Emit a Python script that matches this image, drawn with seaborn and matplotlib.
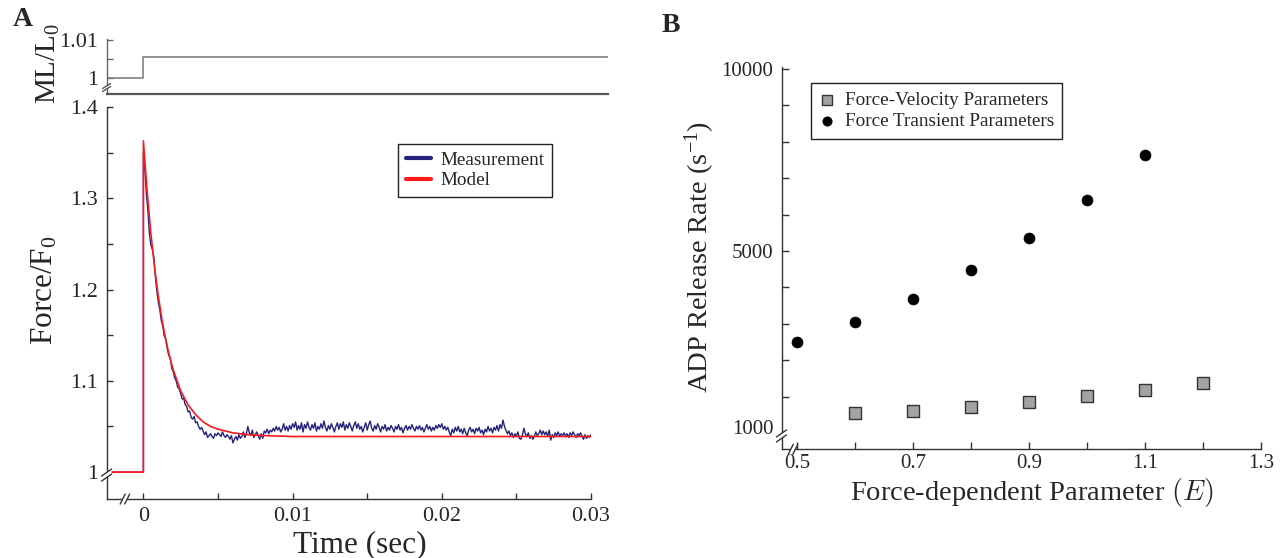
import numpy as np
import pandas as pd
import matplotlib
matplotlib.use("Agg")
import matplotlib.pyplot as plt
import seaborn as sns
from matplotlib.lines import Line2D
from matplotlib.patches import Polygon
from matplotlib.ticker import FixedLocator, FixedFormatter, NullFormatter

# ---------------- Panel A data ----------------
t_left = -0.00247
ml_time = [t_left, 0.0, 0.0, 0.03114]
ml_value = [1.0, 1.0, 1.0055, 1.0055]

baseline_time = [t_left, 0.0]
baseline_value = [1.0, 1.0]
meas_dt = 0.0001
meas_value = [
    1.350, 1.332, 1.305, 1.287, 1.262, 1.249, 1.244, 1.236, 1.215, 1.199,
    1.186, 1.178, 1.166, 1.160, 1.149, 1.146, 1.135, 1.128, 1.125, 1.114,
    1.110, 1.103, 1.100, 1.093, 1.091, 1.086, 1.080, 1.081, 1.074, 1.072,
    1.066, 1.067, 1.060, 1.058, 1.061, 1.054, 1.055, 1.050, 1.047, 1.049,
    1.045, 1.041, 1.044, 1.038, 1.040, 1.042, 1.039, 1.037, 1.042, 1.040,
    1.043, 1.041, 1.039, 1.044, 1.040, 1.038, 1.041, 1.039, 1.036, 1.040,
    1.032, 1.036, 1.039, 1.035, 1.041, 1.037, 1.039, 1.044, 1.038, 1.042,
    1.050, 1.043, 1.040, 1.046, 1.038, 1.041, 1.044, 1.040, 1.036, 1.042,
    1.037, 1.045, 1.043, 1.047, 1.042, 1.046, 1.044, 1.048, 1.045, 1.050,
    1.046, 1.049, 1.044, 1.047, 1.053, 1.046, 1.050, 1.045, 1.051, 1.047,
    1.053, 1.049, 1.055, 1.046, 1.051, 1.047, 1.054, 1.044, 1.052, 1.048,
    1.055, 1.049, 1.046, 1.052, 1.048, 1.054, 1.045, 1.050, 1.047, 1.053,
    1.048, 1.056, 1.049, 1.045, 1.051, 1.047, 1.053, 1.049, 1.044, 1.050,
    1.054, 1.047, 1.053, 1.049, 1.055, 1.046, 1.052, 1.048, 1.054, 1.050,
    1.045, 1.051, 1.055, 1.048, 1.053, 1.047, 1.050, 1.044, 1.049, 1.054,
    1.046, 1.052, 1.056, 1.048, 1.045, 1.051, 1.047, 1.053, 1.049, 1.044,
    1.050, 1.047, 1.052, 1.045, 1.049, 1.046, 1.051, 1.048, 1.044, 1.050,
    1.047, 1.052, 1.046, 1.049, 1.043, 1.048, 1.051, 1.046, 1.050, 1.047,
    1.052, 1.048, 1.045, 1.050, 1.047, 1.051, 1.046, 1.049, 1.044, 1.048,
    1.052, 1.047, 1.050, 1.045, 1.049, 1.046, 1.051, 1.048, 1.052, 1.049,
    1.053, 1.047, 1.050, 1.046, 1.049, 1.044, 1.040, 1.047, 1.043, 1.049,
    1.045, 1.050, 1.044, 1.047, 1.042, 1.048, 1.043, 1.040, 1.046, 1.049,
    1.044, 1.047, 1.042, 1.048, 1.045, 1.049, 1.043, 1.046, 1.041, 1.047,
    1.044, 1.050, 1.045, 1.048, 1.043, 1.049, 1.046, 1.051, 1.045, 1.052,
    1.048, 1.057, 1.050, 1.046, 1.042, 1.045, 1.040, 1.043, 1.038, 1.042,
    1.039, 1.044, 1.037, 1.036, 1.040, 1.048, 1.042, 1.039, 1.043, 1.037,
    1.040, 1.036, 1.039, 1.044, 1.040, 1.042, 1.046, 1.041, 1.045, 1.041,
    1.044, 1.039, 1.046, 1.035, 1.041, 1.038, 1.043, 1.040, 1.044, 1.039,
    1.042, 1.040, 1.043, 1.039, 1.042, 1.038, 1.043, 1.040, 1.044, 1.041,
    1.038, 1.042, 1.040, 1.043, 1.039, 1.036, 1.041, 1.037, 1.040, 1.038, 1.041,
]

model_time = [t_left, 0.0, 0.0, 0.00025, 0.0005, 0.00075, 0.001, 0.00125, 0.0015,
              0.00175, 0.002, 0.0025, 0.003, 0.0035, 0.004, 0.0045, 0.005, 0.006,
              0.007, 0.008, 0.01, 0.03]
model_value = [1.0, 1.0, 1.363, 1.308, 1.262, 1.224, 1.193, 1.1665, 1.145,
               1.127, 1.112, 1.089, 1.0735, 1.063, 1.055, 1.050, 1.047, 1.043,
               1.041, 1.040, 1.039, 1.039]

a_xticks = [0.0, 0.01, 0.02, 0.03]
a_xticklabels = ["0", "0.01", "0.02", "0.03"]
a_xminor = [0.005, 0.015, 0.025]
a_yticks = [1.0, 1.1, 1.2, 1.3, 1.4]
a_yticklabels = ["1", "1.1", "1.2", "1.3", "1.4"]
a_yminor = [1.05, 1.15, 1.25, 1.35]
ml_yticks = [1.0, 1.01]
ml_yticklabels = ["1", "1.01"]
ml_yminor = [1.005]

# ---------------- Panel B data ----------------
fv_E = [0.6, 0.7, 0.8, 0.9, 1.0, 1.1, 1.2]
fv_rate = [541, 596, 706, 843, 1008, 1181, 1382]
ft_E = [0.5, 0.6, 0.7, 0.8, 0.9, 1.0, 1.1]
ft_rate = [2490, 3040, 3690, 4470, 5360, 6400, 7640]

b_xticks = [0.5, 0.7, 0.9, 1.1, 1.3]
b_xticklabels = ["0.5", "0.7", "0.9", "1.1", "1.3"]
b_xminor = [0.6, 0.8, 1.0, 1.2]
b_yticks = [165, 5000, 10000]
b_yticklabels = ["1000", "5000", "10000"]
b_yminor = [1000, 2000, 3000, 4000, 6000, 7000, 8000, 9000]

# ---------------- style ----------------
sns.set_theme(style="ticks")
plt.rcParams["font.family"] = ["Liberation Serif", "DejaVu Serif"]
plt.rcParams["mathtext.fontset"] = "custom"
plt.rcParams["mathtext.rm"] = "Liberation Serif"
plt.rcParams["mathtext.it"] = "Liberation Serif:italic"
plt.rcParams["axes.edgecolor"] = "#333333"
plt.rcParams["axes.linewidth"] = 1.0

TICK_FS_A = 16
TICK_FS_B = 15
LABEL_FS_A = 22.5
LABEL_FS_B = 20.5
LEG_FS = 13.8

fig = plt.figure(figsize=(12.82, 5.58), dpi=100)
ax_ml = fig.add_axes([0.0831, 0.8315, 0.3912, 0.0986])
ax_a = fig.add_axes([0.0831, 0.1057, 0.3779, 0.7025])
ax_b = fig.add_axes([0.6096, 0.1948, 0.3740, 0.6851])

# ---- top small panel ----
df_ml = pd.DataFrame({"t": ml_time, "v": ml_value})
sns.lineplot(data=df_ml, x="t", y="v", ax=ax_ml, color="#808080", lw=1.2,
             sort=False, estimator=None)
ax_ml.set_xlim(t_left, 0.03114)
ax_ml.set_ylim(0.9958, 1.0103)
ax_ml.yaxis.set_major_locator(FixedLocator(ml_yticks))
ax_ml.yaxis.set_major_formatter(FixedFormatter(ml_yticklabels))
ax_ml.yaxis.set_minor_locator(FixedLocator(ml_yminor))
ax_ml.set_xticks([])
for s in ["top", "right"]:
    ax_ml.spines[s].set_visible(False)
ax_ml.spines["left"].set_color("#666666")
ax_ml.spines["bottom"].set_color("#555555")
ax_ml.spines["bottom"].set_linewidth(1.6)
ax_ml.tick_params(axis="y", which="both", direction="in", length=4, width=1,
                  color="#666666", labelsize=TICK_FS_A, pad=6)
ax_ml.set_xlabel("")
ax_ml.set_ylabel("ML/L$_0$", fontsize=21)
ax_ml.yaxis.label.set_va("center")
ax_ml.yaxis.set_label_coords(-0.115, 0.56)

# ---- main panel A ----
df_meas = pd.DataFrame({
    "t": baseline_time + [i * meas_dt for i in range(len(meas_value))],
    "v": baseline_value + meas_value,
})
df_model = pd.DataFrame({"t": model_time, "v": model_value})
sns.lineplot(data=df_meas, x="t", y="v", ax=ax_a, color="#23237f", lw=1.0,
             sort=False, estimator=None, label="Measurement")
sns.lineplot(data=df_model, x="t", y="v", ax=ax_a, color="#ff1a1a", lw=1.2,
             sort=False, estimator=None, label="Model")
ax_a.set_xlim(t_left, 0.03)
ax_a.set_ylim(0.9705, 1.4)
ax_a.xaxis.set_major_locator(FixedLocator(a_xticks))
ax_a.xaxis.set_major_formatter(FixedFormatter(a_xticklabels))
ax_a.xaxis.set_minor_locator(FixedLocator(a_xminor))
ax_a.yaxis.set_major_locator(FixedLocator(a_yticks))
ax_a.yaxis.set_major_formatter(FixedFormatter(a_yticklabels))
ax_a.yaxis.set_minor_locator(FixedLocator(a_yminor))
for s in ["top", "right"]:
    ax_a.spines[s].set_visible(False)
ax_a.tick_params(axis="both", which="both", direction="in", length=4, width=1,
                 color="#333333", labelsize=TICK_FS_A, pad=6)
ax_a.set_xlabel("Time (sec)", fontsize=LABEL_FS_A)
ax_a.set_ylabel("Force/F$_0$", fontsize=LABEL_FS_A)
ax_a.xaxis.label.set_va("center")
ax_a.yaxis.label.set_va("center")
ax_a.xaxis.set_label_coords(0.523, -0.117)
ax_a.yaxis.set_label_coords(-0.127, 0.533)
leg_a = ax_a.legend(loc="upper left", bbox_to_anchor=(0.3105, 0.7419),
                    bbox_transform=fig.transFigure, borderaxespad=0,
                    fontsize=LEG_FS, frameon=True, fancybox=False,
                    edgecolor="#222222", framealpha=1, handlelength=1.3,
                    handletextpad=0.5, labelspacing=0.15, borderpad=0.4)
leg_a.get_frame().set_linewidth(1.0)
for h in leg_a.get_lines():
    h.set_linewidth(3)

# ---- panel B ----
sns.scatterplot(x=fv_E, y=fv_rate, ax=ax_b, marker="s", s=66, color="#a3a3a3",
                edgecolor="#333333", linewidth=1.0,
                label="Force-Velocity Parameters")
sns.scatterplot(x=ft_E, y=ft_rate, ax=ax_b, marker="o", s=62, color="black",
                edgecolor="black", linewidth=0.5,
                label="Force Transient Parameters")
ax_b.set_xlim(0.4724, 1.3)
ax_b.set_ylim(-448, 10055)
ax_b.xaxis.set_major_locator(FixedLocator(b_xticks))
ax_b.xaxis.set_major_formatter(FixedFormatter(b_xticklabels))
ax_b.xaxis.set_minor_locator(FixedLocator(b_xminor))
ax_b.yaxis.set_major_locator(FixedLocator(b_yticks))
ax_b.yaxis.set_major_formatter(FixedFormatter(b_yticklabels))
ax_b.yaxis.set_minor_locator(FixedLocator(b_yminor))
ax_b.yaxis.set_minor_formatter(NullFormatter())
for s in ["top", "right"]:
    ax_b.spines[s].set_visible(False)
ax_b.tick_params(axis="y", which="both", direction="in", length=5, width=1,
                 color="#333333", labelsize=TICK_FS_B, pad=6)
ax_b.tick_params(axis="x", which="both", direction="in", length=5, width=1,
                 color="#333333", labelsize=TICK_FS_B, pad=3.5)
ax_b.set_xlabel("Force-dependent Parameter $(E)$", fontsize=LABEL_FS_B,
                math_fontfamily="cm")
ax_b.set_ylabel("ADP Release Rate (s$^{-1}$)", fontsize=LABEL_FS_B)
ax_b.xaxis.label.set_va("center")
ax_b.yaxis.label.set_va("center")
ax_b.xaxis.set_label_coords(0.522, -0.112)
ax_b.yaxis.set_label_coords(-0.17, 0.503)
leg_b = ax_b.legend(loc="upper left", bbox_to_anchor=(0.6326, 0.8513),
                    bbox_transform=fig.transFigure, borderaxespad=0,
                    fontsize=LEG_FS, frameon=True, fancybox=False,
                    edgecolor="#222222", framealpha=1, handlelength=0.8,
                    handletextpad=0.5, labelspacing=0.2, borderpad=0.45,
                    markerscale=0.85)
leg_b.get_frame().set_linewidth(1.0)

fig.canvas.draw()
ax_b.yaxis.get_major_ticks()[0].tick1line.set_visible(False)


# ---- axis-break marks (decoration) ----
def add_break(ax, xf, yf, hw, hh, sep, along, color="#333333"):
    px, py = ax.transAxes.transform((xf, yf))
    inv = fig.transFigure.inverted()
    if along == "y":
        offs = [(0, -sep / 2), (0, sep / 2)]
    else:
        offs = [(-sep / 2, 0), (sep / 2, 0)]
    segs = []
    for ox, oy in offs:
        p0 = inv.transform((px + ox - hw, py + oy - hh))
        p1 = inv.transform((px + ox + hw, py + oy + hh))
        segs.append((p0, p1))
    poly = Polygon([segs[0][0], segs[0][1], segs[1][1], segs[1][0]],
                   closed=True, facecolor="white", edgecolor="none",
                   transform=fig.transFigure, zorder=10)
    fig.add_artist(poly)
    for p0, p1 in segs:
        fig.add_artist(Line2D([p0[0], p1[0]], [p0[1], p1[1]], color=color,
                              lw=1.0, transform=fig.transFigure, zorder=11))


add_break(ax_ml, 0.0, 0.118, 4, 2.5, 3, "y", color="#555555")
add_break(ax_a, 0.0, 0.061, 5, 3.5, 5, "y")
add_break(ax_a, 0.038, 0.0, 2.5, 5, 4.5, "x")
add_break(ax_b, 0.0, 0.035, 5, 3.5, 5, "y")
add_break(ax_b, 0.024, 0.0, 2.5, 5, 4.5, "x")

# ---- panel letters ----
fig.text(22.5 / 1282, 1 - 19.5 / 558, "A", fontsize=20, fontweight="bold",
         ha="center", va="center")
fig.text(671 / 1282, 1 - 26 / 558, "B", fontsize=20, fontweight="bold",
         ha="center", va="center")

fig.savefig("out.png", dpi=100)
